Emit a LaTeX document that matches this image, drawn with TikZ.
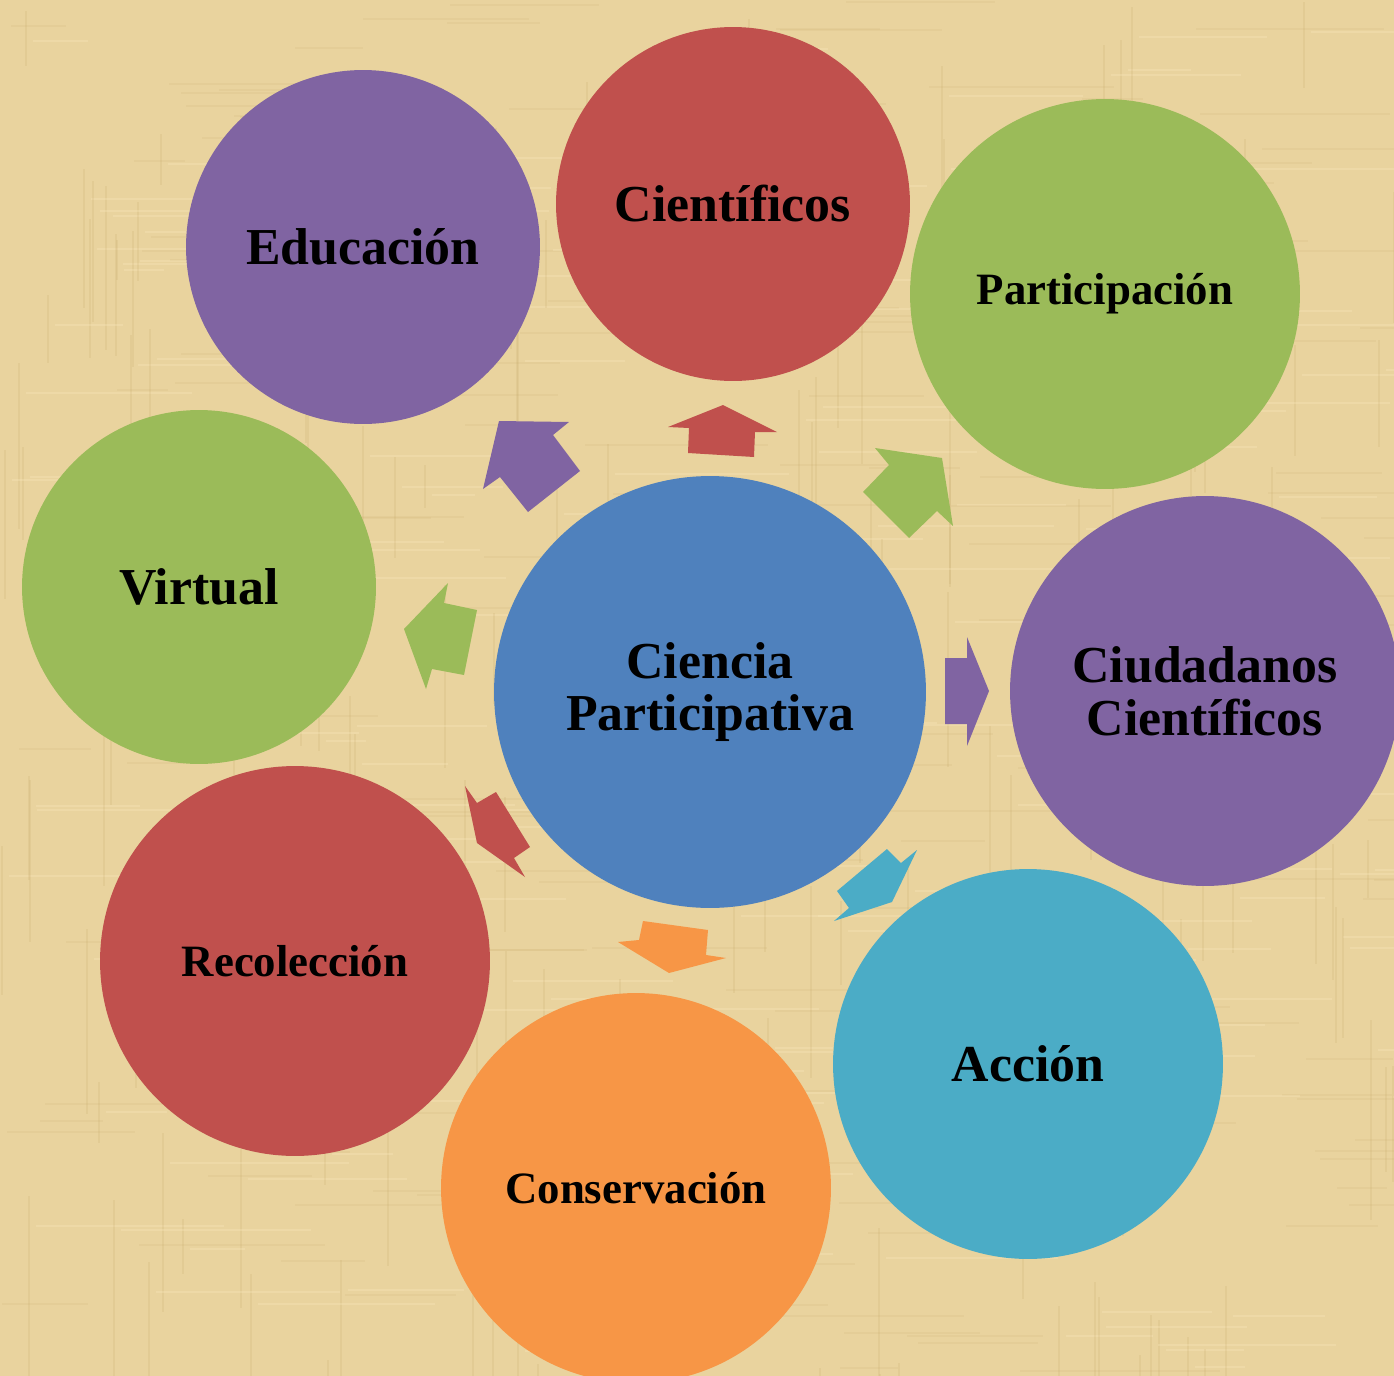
\documentclass[tikz,border=0pt]{standalone}
\usepackage{fontspec}
\setmainfont{Liberation Serif}
\usepackage{tikz}
\usetikzlibrary{positioning}

\definecolor{parch}{RGB}{233,211,158}
\definecolor{parchdark}{RGB}{190,158,92}
\definecolor{parchlight}{RGB}{250,234,190}
\definecolor{cpblue}{RGB}{79,129,189}
\definecolor{cpred}{RGB}{192,80,77}
\definecolor{cppurple}{RGB}{128,100,162}
\definecolor{cpgreen}{RGB}{155,187,89}
\definecolor{cpcyan}{RGB}{75,172,198}
\definecolor{cporange}{RGB}{247,150,70}

\tikzset{
  bubble/.style={circle, inner sep=0pt, align=center, text=black,
                 font=\bfseries\fontsize{29.5}{30}\selectfont},
  small/.style={font=\bfseries\fontsize{25.5}{28}\selectfont}
}

\begin{document}
\begin{tikzpicture}[x=0.02cm, y=-0.02cm]
  \useasboundingbox (0,0) rectangle (1394,1376);
  \clip (0,0) rectangle (1394,1376);
  % papiro de fondo
  \fill[parch] (0,0) rectangle (1394,1376);
  \pgfmathsetseed{11}
  \foreach \i in {1,...,220} {
    \pgfmathsetmacro{\xa}{random(0,1394)}
    \pgfmathsetmacro{\ya}{random(0,1376)}
    \pgfmathsetmacro{\la}{random(40,200)}
    \draw[parchdark, opacity=.14, line width=.6pt] (\xa,\ya) -- ++(0,\la);
    \draw[parchdark, opacity=.10, line width=.6pt] (\ya,\xa) -- ++(\la,0);
    \draw[parchlight, opacity=.30, line width=1pt] (\xa+7,\ya+30) -- ++(\la,0);
  }

  % circulos
  \node[bubble, fill=cpblue, minimum size=8.64cm] (cp) at (710,692) {Ciencia\\Participativa};
  \node[bubble, fill=cpred, minimum size=7.08cm] (cient) at (733,204) {Científicos};
  \node[bubble, fill=cppurple, minimum size=7.08cm] (edu) at (363,247) {Educación};
  \node[bubble, small, fill=cpgreen, minimum size=7.8cm] (part) at (1105,294) {Participación};
  \node[bubble, fill=cppurple, minimum size=7.8cm] (ciud) at (1205,691) {Ciudadanos\\Científicos};
  \node[bubble, fill=cpcyan, minimum size=7.8cm] (acc) at (1028,1064) {Acción};
  \node[bubble, small, fill=cporange, minimum size=7.8cm] (cons) at (636,1188) {Conservación};
  \node[bubble, small, fill=cpred, minimum size=7.8cm] (rec) at (295,961) {Recolección};
  \node[bubble, fill=cpgreen, minimum size=7.08cm] (virt) at (199,587) {Virtual};

  % flechas
  \fill[cpred] (668,427) -- (723,405) -- (777,432) -- (755,432) -- (754,457) -- (688,453) -- (689,428) -- cycle;
  \fill[cppurple] (499,421) -- (569,422) -- (553,435) -- (580,471) -- (528,512) -- (500,477) -- (483,489) -- cycle;
  \fill[cpgreen] (875,448) -- (942,458) -- (953,526) -- (937,511) -- (909,538) -- (863,492) -- (889,465) -- cycle;
  \fill[cppurple] (945,658) -- (967,658) -- (967,637) -- (989,691) -- (967,746) -- (967,724) -- (945,724) -- cycle;
  \fill[cpcyan] (887,849) -- (901,863) -- (917,850) -- (892,902) -- (834,921) -- (849,908) -- (837,891) -- cycle;
  \fill[cporange] (643,921) -- (708,930) -- (706,955) -- (726,958) -- (669,973) -- (618,942) -- (639,940) -- cycle;
  \fill[cpred] (465,786) -- (477,803) -- (496,792) -- (530,847) -- (514,858) -- (525,877) -- (477,843) -- cycle;
  \fill[cpgreen] (448,583) -- (444,603) -- (477,610) -- (464,675) -- (432,669) -- (426,689) -- (404,629) -- cycle;
\end{tikzpicture}
\end{document}
